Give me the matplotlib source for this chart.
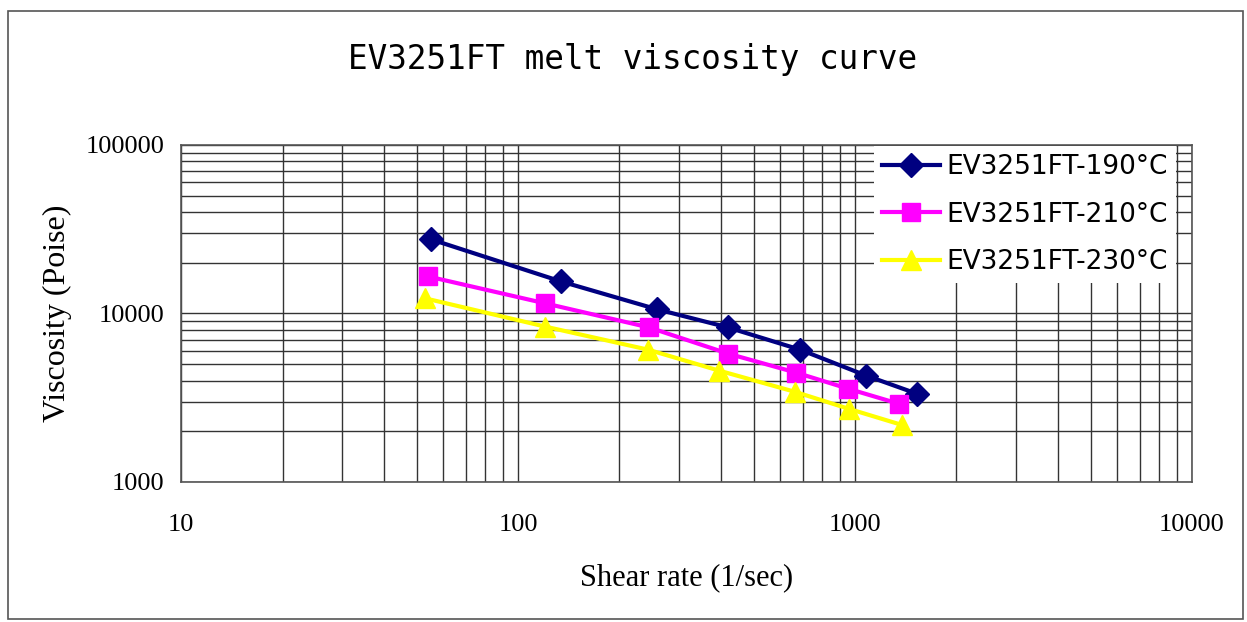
import numpy as np
import matplotlib.pyplot as plt
from matplotlib.patches import Rectangle
from matplotlib.ticker import LogLocator, FixedLocator, NullFormatter

# shear rate (1/sec) and viscosity (Poise)
rate_190 = [55, 134, 258, 420, 687, 1079, 1527]
visc_190 = [27600, 15500, 10600, 8260, 6100, 4280, 3340]
rate_210 = [54, 120, 245, 420, 668, 953, 1351]
visc_210 = [16600, 11500, 8260, 5780, 4460, 3580, 2910]
rate_230 = [53, 120, 243, 395, 663, 957, 1378]
visc_230 = [12300, 8370, 6100, 4580, 3430, 2720, 2180]

labels = ['EV3251FT-190°C', 'EV3251FT-210°C', 'EV3251FT-230°C']
x_ticks = [10, 100, 1000, 10000]
y_ticks = [1000, 10000, 100000]

fig = plt.figure(figsize=(12.47, 6.22), dpi=100)
fig.patches.append(Rectangle((0.0065, 0.005), 0.99, 0.977, transform=fig.transFigure,
                             fill=False, edgecolor='#555555', linewidth=1.2))

ax = fig.add_axes([0.1452, 0.2251, 0.8107, 0.5418])
ax.set_xscale('log')
ax.set_yscale('log')
ax.set_xlim(10, 10000)
ax.set_ylim(1000, 100000)

ax.plot(rate_190, visc_190, color='#000080', lw=3, marker='D', ms=12, label=labels[0])
ax.plot(rate_210, visc_210, color='#FF00FF', lw=3, marker='s', ms=13, label=labels[1])
ax.plot(rate_230, visc_230, color='#FFFF00', lw=3, marker='^', ms=15, label=labels[2])

ax.xaxis.set_major_locator(FixedLocator(x_ticks))
ax.yaxis.set_major_locator(FixedLocator(y_ticks))
ax.xaxis.set_minor_locator(LogLocator(base=10, subs=np.arange(2, 10)))
ax.yaxis.set_minor_locator(LogLocator(base=10, subs=np.arange(2, 10)))
ax.xaxis.set_minor_formatter(NullFormatter())
ax.yaxis.set_minor_formatter(NullFormatter())
ax.set_xticklabels([str(v) for v in x_ticks])
ax.set_yticklabels([str(v) for v in y_ticks])

ax.grid(True, which='both', color='#333333', lw=1.0)
ax.set_axisbelow(True)
ax.tick_params(which='both', length=0, labelsize=19, labelfontfamily='Liberation Serif')
ax.tick_params(axis='x', pad=23)
ax.tick_params(axis='y', pad=12)
for s in ax.spines.values():
    s.set_color('#555555')
    s.set_linewidth(1.2)

ax.set_xlabel('Shear rate (1/sec)', fontfamily='Liberation Serif', fontsize=22, labelpad=20)
ax.set_ylabel('Viscosity (Poise)', fontfamily='Liberation Serif', fontsize=23, labelpad=10)

fig.text(0.507, 0.905, 'EV3251FT melt viscosity curve', ha='center', va='center',
         fontfamily='DejaVu Sans Mono', fontsize=23.5)

leg = ax.legend(loc='upper right', bbox_to_anchor=(0.943, 0.765), bbox_transform=fig.transFigure,
                frameon=True, fancybox=False, framealpha=1, edgecolor='none',
                prop={'family': 'DejaVu Sans', 'size': 19}, handlelength=2.2,
                labelspacing=0.82, borderpad=0.3, handletextpad=0.25, borderaxespad=0)

fig.savefig('out.png', dpi=100)
